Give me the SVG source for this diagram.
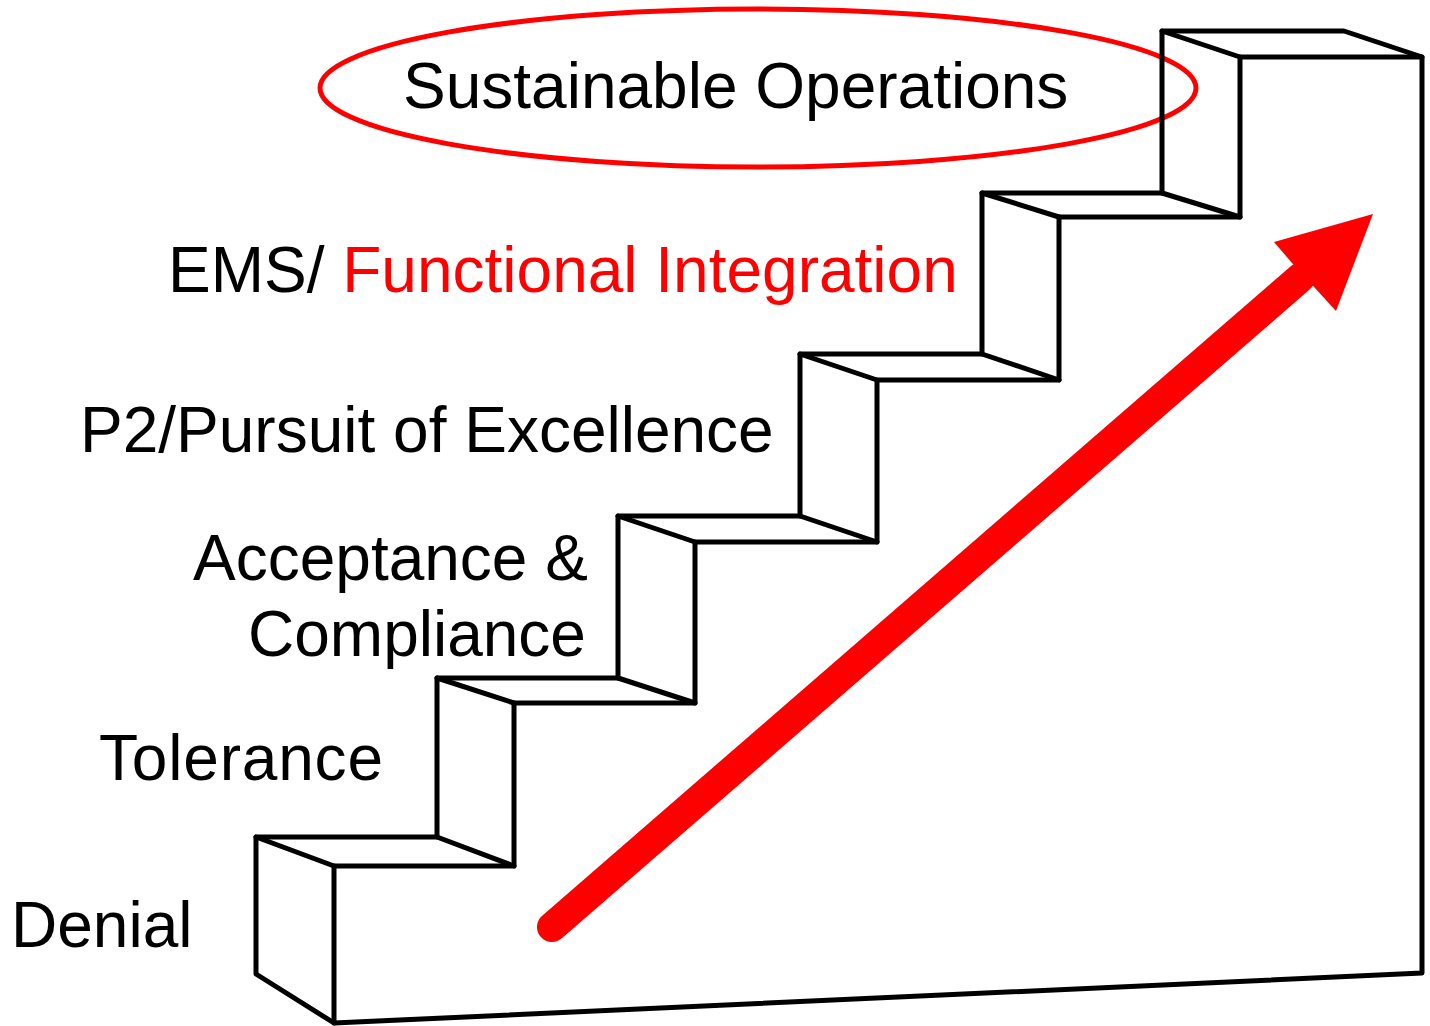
<svg xmlns="http://www.w3.org/2000/svg" width="1430" height="1026" viewBox="0 0 1430 1026">
<style>
.lbl{font-family:"Liberation Sans",Arial,sans-serif;font-size:64px;fill:#000}
.red{fill:#ff0000}
.st{fill:none;stroke:#000;stroke-width:5;stroke-linejoin:round;stroke-linecap:round}
</style>
<rect width="1430" height="1026" fill="#fff"/>
<g id="goal">
<ellipse cx="758" cy="88" rx="438" ry="79" fill="none" stroke="#ff0000" stroke-width="5"/>
<text class="lbl" x="403" y="108">Sustainable Operations</text>
</g>
<g id="stairs" class="st">
<path d="M334,1023 L256,974 L256,837 L437,837 L437,678 L618,678 L618,516 L800,516 L800,354 L982,354 L982,193 L1162,193 L1162,31 L1344,31 L1422,57 L1422,973 Z"/>
<path d="M334,1023 L334,866 L514,866 L514,703 L695,703 L695,542 L877,542 L877,380 L1059,380 L1059,217 L1240,217 L1240,57 L1422,57"/>
<path d="M256,837 L334,866 M437,837 L514,866 M437,678 L514,703 M618,678 L695,703 M618,516 L695,542 M800,516 L877,542 M800,354 L877,380 M982,354 L1059,380 M982,193 L1059,217 M1162,193 L1240,217 M1162,31 L1240,57"/>
</g>
<g id="connectors">
<line x1="552" y1="927" x2="1300" y2="278" stroke="#ff0000" stroke-width="30" stroke-linecap="round"/>
<polygon points="1373,214 1274,242 1292,263 1315,288 1336,311" fill="#ff0000"/>
</g>
<g id="denial"><text class="lbl" x="11" y="947">Denial</text></g>
<g id="tolerance"><text class="lbl" x="99" y="780" textLength="284">Tolerance</text></g>
<g id="acceptance"><text class="lbl" x="193" y="580">Acceptance &amp;</text><text class="lbl" x="248" y="656">Compliance</text></g>
<g id="p2"><text class="lbl" x="80" y="452">P2/Pursuit of Excellence</text></g>
<g id="ems"><text class="lbl" x="168" y="292">EMS/ <tspan class="red">Functional Integration</tspan></text></g>
</svg>
